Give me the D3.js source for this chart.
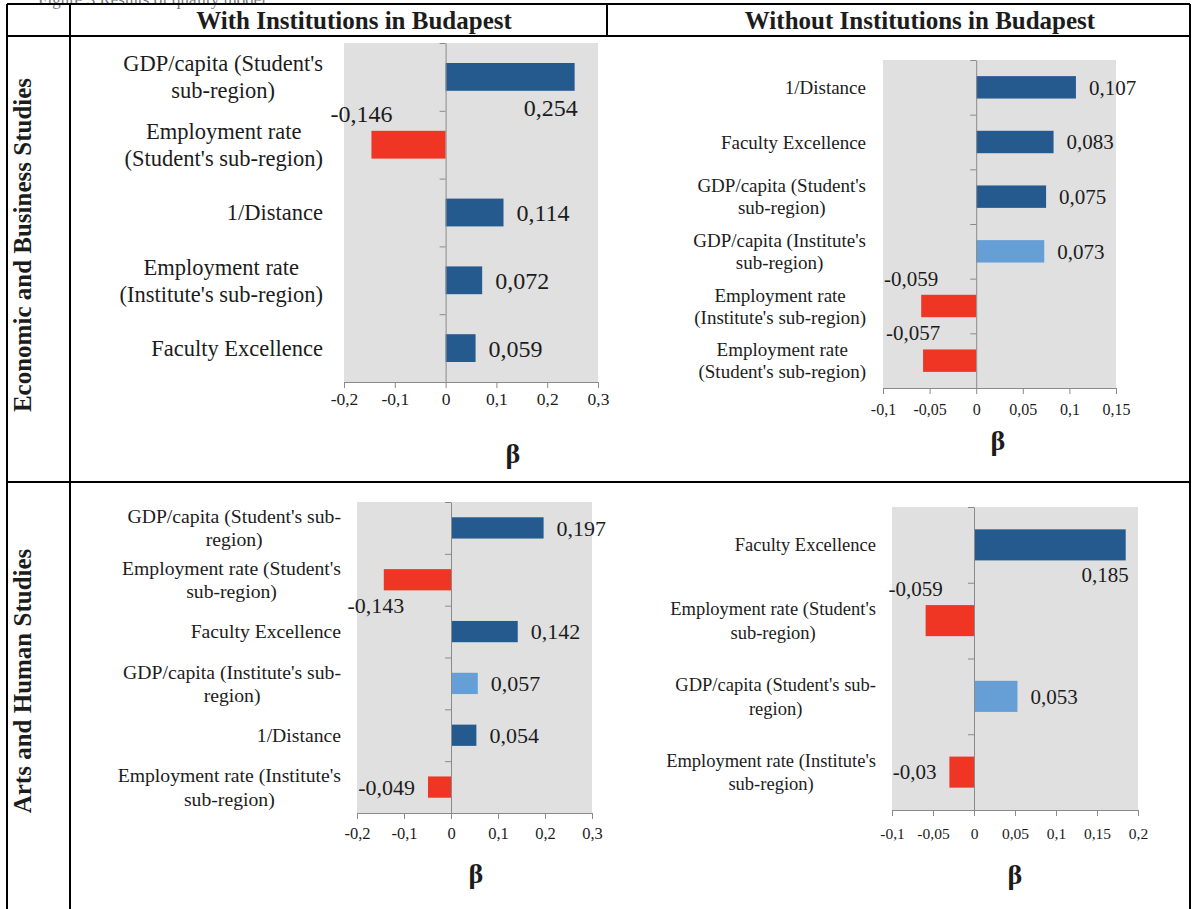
<!DOCTYPE html>
<html>
<head>
<meta charset="utf-8">
<script src="https://cdn.jsdelivr.net/npm/d3@7"></script>
<style>
  body { margin: 0; background: #fff; }
  svg { display: block; font-family: "Liberation Serif", "Times New Roman", serif; }
</style>
</head>
<body>
<div id="chart"></div>
<script>
// ---- data ----
const econWithCats = [
  "GDP/capita (Student's\nsub-region)",
  "Employment rate\n(Student's sub-region)",
  "1/Distance",
  "Employment rate\n(Institute's sub-region)",
  "Faculty Excellence",
];
const econWithVals = [0.254, -0.146, 0.114, 0.072, 0.059];

const econWithoutCats = [
  "1/Distance",
  "Faculty Excellence",
  "GDP/capita (Student's\nsub-region)",
  "GDP/capita (Institute's\nsub-region)",
  "Employment rate\n(Institute's sub-region)",
  "Employment rate\n(Student's sub-region)",
];
const econWithoutVals = [0.107, 0.083, 0.075, 0.073, -0.059, -0.057];

const artsWithCats = [
  "GDP/capita (Student's sub-\nregion)",
  "Employment rate (Student's\nsub-region)",
  "Faculty Excellence",
  "GDP/capita (Institute's sub-\nregion)",
  "1/Distance",
  "Employment rate (Institute's\nsub-region)",
];
const artsWithVals = [0.197, -0.143, 0.142, 0.057, 0.054, -0.049];

const artsWithoutCats = [
  "Faculty Excellence",
  "Employment rate (Student's\nsub-region)",
  "GDP/capita (Student's sub-\nregion)",
  "Employment rate (Institute's\nsub-region)",
];
const artsWithoutVals = [0.185, -0.059, 0.053, -0.03];

const ticksWide = [-0.2, -0.1, 0, 0.1, 0.2, 0.3];
const ticksEconOut = [-0.1, -0.05, 0, 0.05, 0.1, 0.15];
const ticksArtsOut = [-0.1, -0.05, 0, 0.05, 0.1, 0.15, 0.2];

const columnTitles = ["With Institutions in Budapest", "Without Institutions in Budapest"];
const rowTitles = ["Economic and Business Studies", "Arts and Human Studies"];

// ---- layout ----
const DARK = "#255a8f", LIGHT = "#659fd5", RED = "#ef3524";
const AXIS = "#8a8a8a", INK = "#1c1c1c";

const panels = [
  { cats: econWithCats, vals: econWithVals, ticks: ticksWide, domain: [-0.2, 0.3],
    left: 344, right: 598, top: 43, bottom: 382, light: [],
    labelRight: 323, catSize: 22.5, lineH: 27, valSize: 24, tickSize: 17.5, tickPad: 5,
    modes: ["below", "above", "out", "out", "out"], betaX: 513, betaY: 463 },
  { cats: econWithoutCats, vals: econWithoutVals, ticks: ticksEconOut, domain: [-0.1, 0.15],
    left: 883, right: 1116, top: 60, bottom: 388, light: [3],
    labelRight: 866, catSize: 19, lineH: 22, valSize: 21, tickSize: 16, tickPad: 10,
    modes: ["out", "out", "out", "out", "above", "above"], betaX: 998, betaY: 450 },
  { cats: artsWithCats, vals: artsWithVals, ticks: ticksWide, domain: [-0.2, 0.3],
    left: 357, right: 592, top: 502, bottom: 813, light: [3],
    labelRight: 341, catSize: 19.7, lineH: 23.3, valSize: 22, tickSize: 16.5, tickPad: 8,
    modes: ["out", "below", "out", "out", "out", "out"], betaX: 476, betaY: 883 },
  { cats: artsWithoutCats, vals: artsWithoutVals, ticks: ticksArtsOut, domain: [-0.1, 0.2],
    left: 892, right: 1138, top: 507, bottom: 810, light: [2],
    labelRight: 876, catSize: 18.5, lineH: 23.3, valSize: 21, tickSize: 15.5, tickPad: 12,
    modes: ["below", "above", "out", "out"], betaX: 1015, betaY: 884 },
];

const fmt = (v) => String(v).replace(".", ",");

const svg = d3.select("#chart").append("svg").attr("width", 1193).attr("height", 909);

// caption, cut off at the top as in the scan
svg.append("text")
  .attr("x", 38).attr("y", 5)
  .attr("font-size", 17).attr("fill", "#777")
  .text("Figure 3 Results of quality model");

// table frame
const frame = svg.append("g").attr("stroke", "#000").attr("stroke-width", 2);
[[7, 4, 1190, 4], [7, 36, 1190, 36], [7, 482, 1190, 482],
 [7, 4, 7, 909], [70, 4, 70, 909], [607, 4, 607, 36], [1190, 4, 1190, 909]]
  .forEach(([x1, y1, x2, y2]) =>
    frame.append("line").attr("x1", x1).attr("y1", y1).attr("x2", x2).attr("y2", y2));

svg.selectAll(".coltitle")
  .data(columnTitles)
  .enter()
  .append("text")
  .attr("x", (d, i) => [354, 920][i])
  .attr("y", 29)
  .attr("text-anchor", "middle")
  .attr("font-size", 25)
  .attr("font-weight", "bold")
  .attr("fill", INK)
  .text((d) => d);

svg.selectAll(".rowtitle")
  .data(rowTitles)
  .enter()
  .append("text")
  .attr("transform", (d, i) => `translate(31, ${[245, 681][i]}) rotate(-90)`)
  .attr("text-anchor", "middle")
  .attr("font-size", 25)
  .attr("font-weight", "bold")
  .attr("fill", INK)
  .text((d) => d);

panels.forEach(drawPanel);

function drawPanel(p) {
  const n = p.cats.length;
  const x = d3.scaleLinear().domain(p.domain).range([p.left, p.right]);
  const y = d3.scaleBand().domain(p.cats).range([p.top, p.bottom])
    .paddingInner(0.59).paddingOuter(0.295);
  const idx = d3.scaleLinear().domain([0, n]).range([p.top, p.bottom]);
  const g = svg.append("g");

  g.append("rect")
    .attr("x", p.left).attr("y", p.top)
    .attr("width", p.right - p.left).attr("height", p.bottom - p.top)
    .attr("fill", "#e0e0e0");

  g.selectAll(".bar")
    .data(p.vals)
    .enter()
    .append("rect")
    .attr("x", (v) => x(Math.min(0, v)))
    .attr("y", (v, i) => y(p.cats[i]))
    .attr("width", (v) => Math.abs(x(v) - x(0)))
    .attr("height", y.bandwidth())
    .attr("fill", (v, i) => (v < 0 ? RED : p.light.includes(i) ? LIGHT : DARK));

  // category axis along zero
  const ax = g.append("g")
    .attr("transform", `translate(${x(0)},0)`)
    .call(d3.axisLeft(idx).tickValues(d3.range(n + 1)).tickFormat("").tickSize(6).tickSizeOuter(0));
  ax.selectAll("path, line").attr("stroke", AXIS);

  // value axis at bottom
  const bx = g.append("g")
    .attr("transform", `translate(0,${p.bottom})`)
    .call(d3.axisBottom(x).tickValues(p.ticks).tickFormat(fmt)
      .tickSize(6).tickSizeOuter(0).tickPadding(p.tickPad));
  bx.selectAll("path, line").attr("stroke", AXIS);
  bx.attr("font-family", null);
  bx.selectAll("text").attr("font-size", p.tickSize).attr("fill", INK);

  // category labels: lines centred on each other, block right-aligned
  p.cats.forEach((c) => {
    const lines = c.split("\n");
    const cy = y(c) + y.bandwidth() / 2;
    const texts = lines.map((line, j) =>
      g.append("text")
        .attr("y", cy + (j - (lines.length - 1) / 2) * p.lineH)
        .attr("dy", "0.35em")
        .attr("text-anchor", "middle")
        .attr("font-size", p.catSize)
        .attr("fill", INK)
        .text(line));
    const w = d3.max(texts, (t) => t.node().getComputedTextLength());
    texts.forEach((t) => t.attr("x", p.labelRight - w / 2));
  });

  // value labels
  g.selectAll(".val")
    .data(p.vals)
    .enter()
    .append("text")
    .attr("font-size", p.valSize)
    .attr("fill", INK)
    .each(function (v, i) {
      const t = d3.select(this);
      const end = x(v);
      const top = y(p.cats[i]);
      const bot = top + y.bandwidth();
      const mode = p.modes[i];
      if (mode === "out") {
        t.attr("x", v < 0 ? end - 13 : end + 13)
          .attr("y", top + y.bandwidth() / 2)
          .attr("dy", "0.35em")
          .attr("text-anchor", v < 0 ? "end" : "start");
      } else if (mode === "below") {
        t.attr("x", v < 0 ? end - 8 : end + 3)
          .attr("y", bot + p.valSize * 1.05)
          .attr("text-anchor", v < 0 ? "middle" : "end");
      } else {
        t.attr("x", end - 10)
          .attr("y", top - 9)
          .attr("text-anchor", "middle");
      }
    })
    .text((v) => fmt(v));

  g.append("text")
    .attr("x", p.betaX).attr("y", p.betaY)
    .attr("text-anchor", "middle")
    .attr("font-size", 28)
    .attr("font-weight", "bold")
    .attr("fill", INK)
    .text("β");
}
</script>
</body>
</html>
